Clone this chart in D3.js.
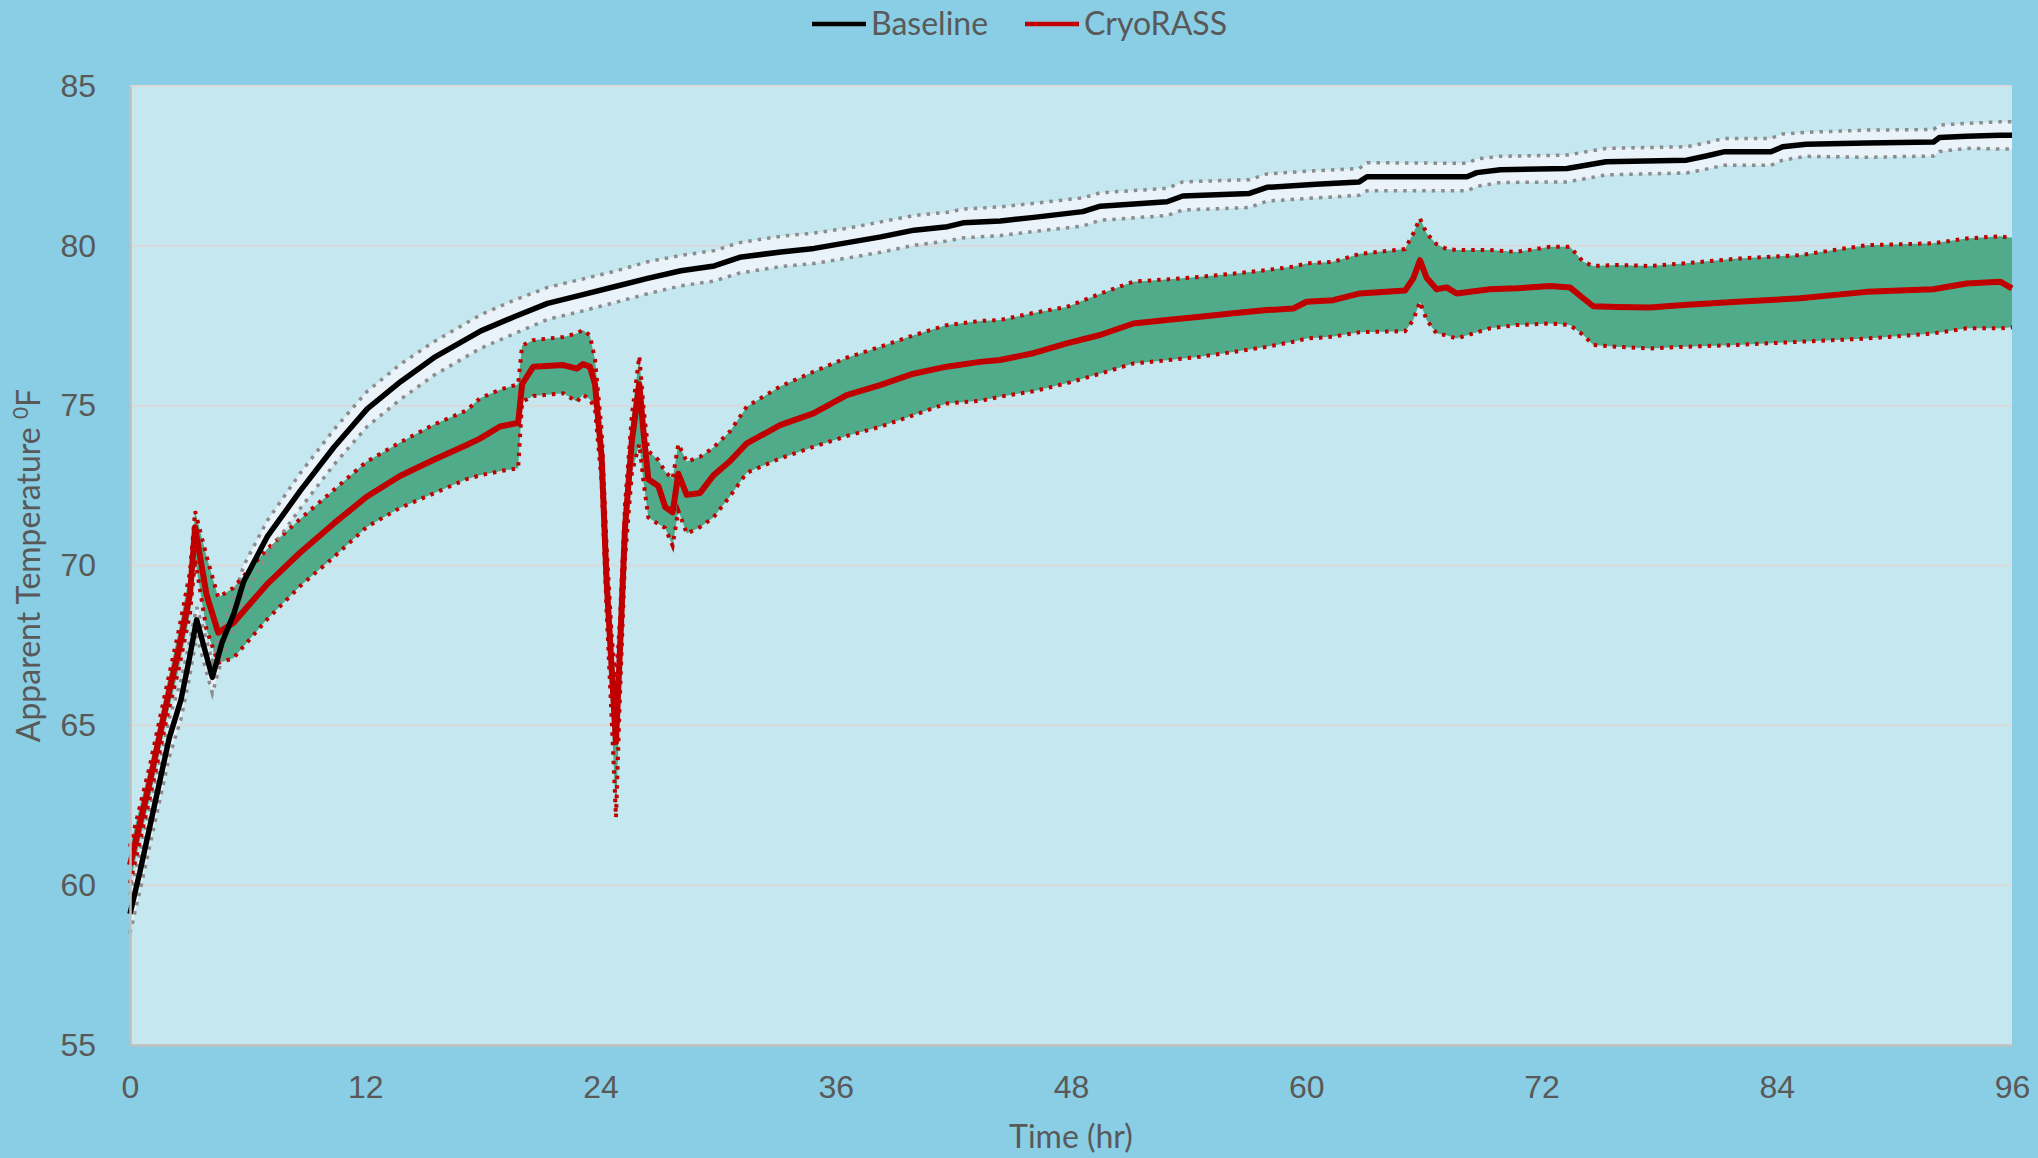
<!DOCTYPE html>
<html>
<head>
<meta charset="utf-8">
<script src="https://cdn.jsdelivr.net/npm/d3@7"></script>
<style>
  body { margin: 0; background: #89cee4; }
  svg { display: block; font-family: Lato, "Noto Sans", sans-serif; }
  .tick-label { fill: #595959; font-size: 32px; }
</style>
</head>
<body>
<svg class="chart"></svg>
<script>
// Baseline run: time (hr), mean, upper and lower bound (deg F)
const bTime = [0, 0.5, 1, 1.5, 2, 2.6, 3.0, 3.4, 3.8, 4.2, 4.7, 5.3, 5.8, 7, 8.7, 10.4, 12.1, 13.8, 15.5, 17.9,
  19.6, 21.3, 23.0, 24.7, 26.4, 28.1, 29.8, 31.1, 33.2, 34.9, 36.6, 38.3, 40, 41.7, 42.5, 44.4, 46.1, 48.6, 49.5,
  52.9, 53.7, 57.1, 58, 60.5, 62.7, 63.1, 68.2, 68.7, 69.9, 73.3, 75.3, 79.4, 80.4, 81.3, 83.7, 84.3, 85.5, 88.6,
  92, 92.3, 93.7, 95.4, 96];
const bMean = [59.1, 60.4, 61.8, 63.2, 64.6, 65.8, 67.0, 68.3, 67.4, 66.5, 67.6, 68.5, 69.5, 70.9, 72.35, 73.7, 74.9,
  75.75, 76.5, 77.34, 77.78, 78.2, 78.46, 78.72, 78.98, 79.22, 79.37, 79.64, 79.81, 79.92, 80.1, 80.28, 80.49, 80.6,
  80.72, 80.78, 80.89, 81.07, 81.24, 81.38, 81.56, 81.64, 81.83, 81.93, 82.0, 82.16, 82.16, 82.29, 82.38, 82.42,
  82.63, 82.68, 82.81, 82.94, 82.94, 83.1, 83.18, 83.22, 83.25, 83.39, 83.43, 83.46, 83.46];
const bUpper = [59.7, 61.0, 62.4, 63.8, 65.2, 66.4, 67.5, 68.7, 67.9, 67.0, 68.1, 69.0, 70.0, 71.4, 72.9, 74.25, 75.45,
  76.3, 77.0, 77.85, 78.3, 78.7, 78.95, 79.2, 79.5, 79.7, 79.85, 80.1, 80.3, 80.4, 80.55, 80.75, 80.95, 81.05,
  81.15, 81.22, 81.33, 81.5, 81.66, 81.8, 82.0, 82.07, 82.25, 82.35, 82.42, 82.6, 82.58, 82.72, 82.8, 82.84,
  83.05, 83.1, 83.22, 83.36, 83.36, 83.5, 83.55, 83.62, 83.64, 83.78, 83.83, 83.88, 83.88];
const bLower = [58.5, 59.8, 61.2, 62.6, 64.0, 65.2, 66.4, 67.8, 66.9, 66.0, 67.1, 68.0, 69.0, 70.35, 71.8, 73.15, 74.35,
  75.2, 75.95, 76.8, 77.25, 77.7, 77.95, 78.22, 78.5, 78.75, 78.9, 79.15, 79.35, 79.45, 79.62, 79.8, 80.02, 80.15,
  80.25, 80.32, 80.45, 80.62, 80.8, 80.95, 81.12, 81.2, 81.4, 81.5, 81.58, 81.72, 81.72, 81.86, 81.98, 82.0,
  82.22, 82.28, 82.4, 82.52, 82.52, 82.68, 82.8, 82.77, 82.81, 82.95, 83.05, 83.03, 83.03];

// CryoRASS run
const cTime = [0, 1.0, 1.9, 2.5, 3.06, 3.32, 3.9, 4.5, 5.27, 6.97, 8.67, 10.37, 12.07, 13.77, 15.47, 17.17, 17.85,
  18.87, 19.8, 20.0, 20.57, 22.1, 22.8, 23.1, 23.46, 23.72, 24.06, 24.31, 24.57, 24.79, 24.99, 25.25, 25.6, 25.98,
  26.2, 26.44, 26.95, 27.3, 27.68, 27.97, 28.4, 29.08, 29.76, 30.6, 31.46, 33.16, 34.86, 36.56, 38.26, 39.96,
  41.66, 43.36, 44.38, 46.08, 47.78, 49.48, 51.18, 52.88, 54.58, 56.28, 57.98, 59.34, 60.02, 61.38, 62.74, 65.04,
  65.46, 65.8, 66.14, 66.65, 67.16, 67.67, 69.37, 70.73, 72.43, 73.45, 74.13, 74.64, 75.83, 77.53, 79.23, 82,
  85.19, 88.59, 91.98, 93.69, 95.39, 96];
const cMean = [60.63, 63.2, 65.8, 67.4, 69.1, 71.2, 69.1, 67.9, 68.2, 69.4, 70.4, 71.3, 72.15, 72.8, 73.3, 73.77, 73.97,
  74.35, 74.46, 75.67, 76.22, 76.27, 76.16, 76.3, 76.22, 75.67, 73.37, 69.53, 66.78, 64.48, 67.33, 71.17, 73.91, 75.67,
  74.13, 72.7, 72.49, 71.83, 71.66, 72.87, 72.21, 72.27, 72.82, 73.26, 73.82, 74.39, 74.76, 75.33, 75.64, 76.0,
  76.22, 76.37, 76.43, 76.64, 76.95, 77.21, 77.57, 77.68, 77.78, 77.89, 77.99, 78.04, 78.25, 78.3, 78.51, 78.6,
  78.98, 79.55, 79.0, 78.64, 78.7, 78.51, 78.64, 78.67, 78.74, 78.7, 78.36, 78.11, 78.09, 78.07, 78.15, 78.25,
  78.36, 78.56, 78.64, 78.82, 78.88, 78.67];
const cUpper = [61.2, 63.7, 66.3, 68.0, 69.8, 71.7, 70.3, 69.0, 69.3, 70.5, 71.45, 72.35, 73.25, 73.85, 74.4, 74.85,
  75.23, 75.5, 75.67, 76.88, 77.05, 77.15, 77.26, 77.37, 77.2, 76.44, 74.2, 70.6, 67.8, 66.3, 68.3, 71.9, 74.7, 76.55,
  74.9, 73.58, 73.3, 72.93, 72.71, 73.8, 73.25, 73.4, 73.69, 74.19, 74.97, 75.6, 76.06, 76.5, 76.84, 77.2, 77.52,
  77.65, 77.68, 77.9, 78.09, 78.5, 78.88, 78.95, 79.03, 79.13, 79.24, 79.35, 79.45, 79.5, 79.75, 79.9, 80.39,
  80.86, 80.39, 80.05, 79.9, 79.87, 79.87, 79.81, 79.97, 79.97, 79.5, 79.37, 79.4, 79.37, 79.45, 79.6, 79.71,
  80.02, 80.08, 80.23, 80.3, 80.25];
const cLower = [60.06, 62.7, 65.3, 66.8, 68.5, 70.2, 68.0, 66.95, 67.1, 68.3, 69.35, 70.25, 71.2, 71.8, 72.25, 72.7,
  72.82, 72.95, 73.04, 75.12, 75.3, 75.39, 75.12, 75.34, 75.2, 74.9, 72.6, 68.6, 65.2, 62.12, 65.9, 70.2, 72.9, 73.8,
  72.6, 71.5, 71.3, 71.17, 70.62, 71.72, 71.0, 71.2, 71.5, 72.16, 72.9, 73.35, 73.71, 74.05, 74.34, 74.7, 75.07,
  75.15, 75.28, 75.45, 75.7, 76.0, 76.32, 76.42, 76.53, 76.68, 76.84, 77.0, 77.1, 77.16, 77.3, 77.33, 77.68,
  78.25, 77.68, 77.26, 77.2, 77.1, 77.42, 77.52, 77.57, 77.52, 77.21, 76.9, 76.84, 76.79, 76.84, 76.9, 77.0,
  77.1, 77.26, 77.42, 77.42, 77.45];

const xTicks = [0, 12, 24, 36, 48, 60, 72, 84, 96];
const yTicks = [55, 60, 65, 70, 75, 80, 85];

const W = 2038, H = 1158;
const margin = {top: 86, right: 26, bottom: 113, left: 130};
const width = W - margin.left - margin.right;
const height = H - margin.top - margin.bottom;

const svg = d3.select(".chart")
  .attr("width", W)
  .attr("height", H);

svg.append("rect")
  .attr("width", W)
  .attr("height", H)
  .attr("fill", "#89cee4");

const chart = svg.append("g")
  .attr("transform", `translate(${margin.left},${margin.top})`);

const x = d3.scaleLinear().domain([0, 96]).range([0, width]);
const y = d3.scaleLinear().domain([55, 85]).range([height, 0]);

chart.append("rect")
  .attr("width", width)
  .attr("height", height)
  .attr("fill", "#c5e7f0");

// grid
chart.append("g")
  .selectAll("line")
  .data(yTicks.slice(1))
  .enter().append("line")
  .attr("x1", 0)
  .attr("x2", width)
  .attr("y1", d => y(d))
  .attr("y2", d => y(d))
  .attr("stroke", "#d9d9d9")
  .attr("stroke-width", 2);

const bData = bTime.map((t, i) => ({t: t, m: bMean[i], hi: bUpper[i], lo: bLower[i]}));
const cData = cTime.map((t, i) => ({t: t, m: cMean[i], hi: cUpper[i], lo: cLower[i]}));

const band = d3.area()
  .x(d => x(d.t))
  .y0(d => y(d.lo))
  .y1(d => y(d.hi));

const line = key => d3.line()
  .x(d => x(d.t))
  .y(d => y(d[key]));

chart.append("path")
  .datum(bData)
  .attr("d", band)
  .attr("fill", "#eaf3f9");

chart.append("path")
  .datum(cData)
  .attr("d", band)
  .attr("fill", "#4fab89");

["hi", "lo"].forEach(k => {
  chart.append("path")
    .datum(bData)
    .attr("d", line(k))
    .attr("fill", "none")
    .attr("stroke", "#8c8c8c")
    .attr("stroke-width", 3.5)
    .attr("stroke-dasharray", "3.5,6");
  chart.append("path")
    .datum(cData)
    .attr("d", line(k))
    .attr("fill", "none")
    .attr("stroke", "#c00000")
    .attr("stroke-width", 4)
    .attr("stroke-dasharray", "3.5,6");
});

chart.append("path")
  .datum(cData)
  .attr("d", line("m"))
  .attr("fill", "none")
  .attr("stroke", "#c00000")
  .attr("stroke-width", 6)
  .attr("stroke-linejoin", "round");

chart.append("path")
  .datum(bData)
  .attr("d", line("m"))
  .attr("fill", "none")
  .attr("stroke", "#000")
  .attr("stroke-width", 5.5)
  .attr("stroke-linejoin", "round");

// axes
const xAxis = d3.axisBottom(x).tickValues(xTicks).tickSize(0).tickPadding(30);
const yAxis = d3.axisLeft(y).tickValues(yTicks).tickSize(0).tickPadding(34);

const gx = chart.append("g")
  .attr("transform", `translate(0,${height})`)
  .call(xAxis);
gx.select(".domain").attr("stroke", "#bfbfbf").attr("stroke-width", 2.5);
gx.selectAll("text").attr("class", "tick-label").attr("font-family", null).attr("font-size", null);

const gy = chart.append("g")
  .call(yAxis);
gy.select(".domain").attr("stroke", "#bfbfbf").attr("stroke-width", 2.5);
gy.selectAll("text").attr("class", "tick-label").attr("font-family", null).attr("font-size", null);

chart.append("text")
  .attr("class", "tick-label")
  .attr("x", width / 2)
  .attr("y", height + 103)
  .attr("text-anchor", "middle")
  .text("Time (hr)");

const yTitle = svg.append("text")
  .attr("class", "tick-label")
  .attr("transform", `translate(40,${margin.top + height / 2}) rotate(-90)`)
  .attr("text-anchor", "middle");
yTitle.append("tspan").text("Apparent Temperature ");
yTitle.append("tspan").attr("dy", -12).attr("font-size", 21).text("0");
yTitle.append("tspan").attr("dy", 12).text("F");

// legend
const legend = [
  {name: "Baseline", color: "#000", x: 812},
  {name: "CryoRASS", color: "#c00000", x: 1025}
];
const lg = svg.append("g")
  .selectAll("g")
  .data(legend)
  .enter().append("g")
  .attr("transform", d => `translate(${d.x},24)`);
lg.append("line")
  .attr("x1", 0)
  .attr("x2", 54)
  .attr("stroke", d => d.color)
  .attr("stroke-width", 4.5);
lg.append("text")
  .attr("class", "tick-label")
  .attr("x", 59)
  .attr("y", 11)
  .text(d => d.name);
</script>
</body>
</html>
